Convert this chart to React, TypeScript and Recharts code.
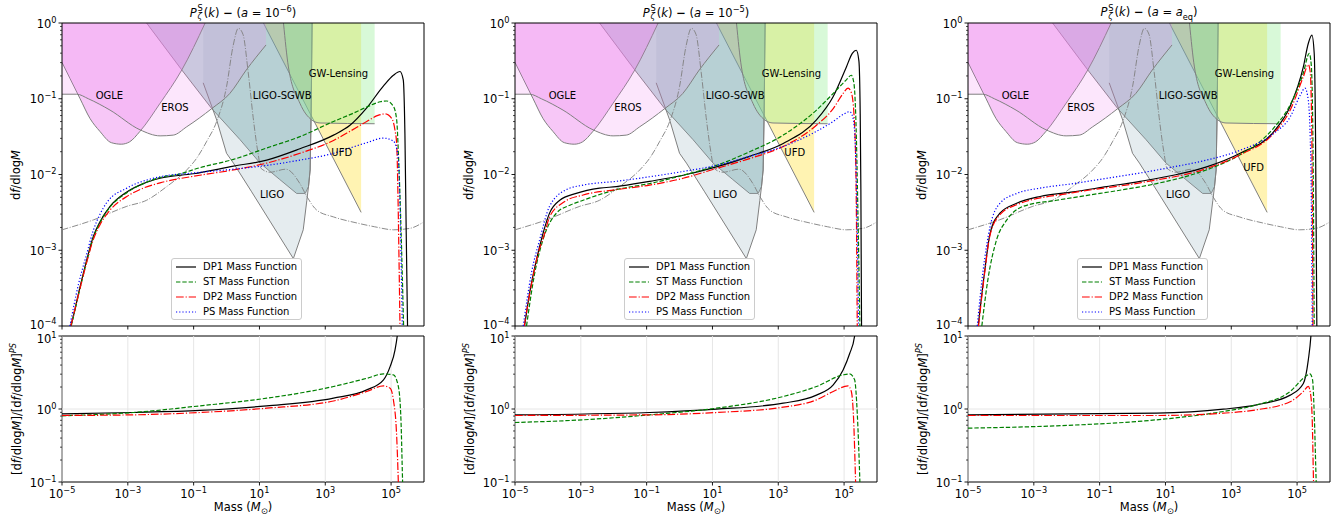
import React from 'react';
import { ComposedChart, Line, Area, XAxis, YAxis, ReferenceArea, ReferenceLine, ReferenceDot } from 'recharts';

type Pt = [number, number];

// ---------- axis ticks (log10 exponents) ----------
const massTickExps = [-5, -3, -1, 1, 3, 5];
const fracMajorExps = [-4, -3, -2, -1, 0];
const ratioMajorExps = [-1, 0, 1];

// ---------- constraint regions: lower boundary [log10 M, log10 f] (region extends up to f = 1) ----------
const ogleBound: Pt[] = [[-5, -0.52], [-4.76, -0.73], [-4.45, -1.0], [-4.15, -1.26], [-3.85, -1.43], [-3.5, -1.58], [-3.2, -1.6], [-2.95, -1.57], [-2.63, -1.43], [-2.02, -1.06], [-1.36, -0.62], [-0.65, 0]];
const erosBound: Pt[] = [[-5, -0.94], [-4.55, -0.94], [-4.2, -1.0], [-3.54, -1.15], [-2.63, -1.41], [-2.02, -1.49], [-1.62, -1.48], [-1.21, -1.37], [-0.45, -1.13], [0.1, -0.93], [0.6, -0.62], [1.2, -0.29]];
const sgwbBound: Pt[] = [[-2.43, 0], [-1.36, -0.62], [-0.45, -1.13], [0.41, -1.54], [1.02, -1.85], [1.6, -2.06], [2.13, -2.25], [2.39, -2.25], [2.49, -2.16], [2.54, -1.94], [2.57, -1.2], [2.6, 0]];
const ligoBound: Pt[] = [[-0.71, -0.79], [-0.3, -1.28], [0.0, -1.72], [0.21, -1.85], [0.75, -2.22], [2.03, -3.11], [2.33, -2.73], [2.44, -2.34], [2.49, -2.16], [2.54, -1.94], [2.57, -1.2], [2.6, 0]];
const ufdBound: Pt[] = [[1.12, 0], [4.09, -2.5]];
const gwlBound: Pt[] = [[1.73, 0], [1.88, -0.58], [2.23, -1.06], [2.59, -1.28], [2.84, -1.32], [4.5, -1.33]];
const refCurve: Pt[] = [[-5, -2.73], [-4.05, -2.6], [-3.03, -2.42], [-2.43, -2.34], [-1.82, -2.16], [-1.21, -1.94], [-0.9, -1.78], [-0.6, -1.56], [-0.3, -1.3], [0.0, -0.84], [0.2, -0.3], [0.36, -0.07], [0.5, -0.15], [0.66, -0.66], [0.81, -1.25], [0.95, -1.7], [1.05, -1.92], [1.32, -1.97], [1.8, -1.93], [2.23, -2.12], [2.44, -2.29], [2.74, -2.47], [3.25, -2.56], [3.96, -2.64], [4.5, -2.69], [5.07, -2.73], [5.58, -2.71], [5.98, -2.63]];

// ---------- panel 1 (a = 1e-6) ----------
const dp1A: Pt[] = [[-4.74, -4], [-4.71, -3.96], [-4.45, -3.48], [-4.25, -3.13], [-4.05, -2.82], [-3.84, -2.62], [-3.54, -2.42], [-3.03, -2.23], [-2.53, -2.12], [-2.02, -2.05], [-1.01, -1.99], [0.21, -1.89], [1.22, -1.81], [2.23, -1.66], [3.25, -1.48], [3.75, -1.35], [4.26, -1.12], [4.77, -0.83], [5.07, -0.69], [5.27, -0.64], [5.37, -0.75], [5.42, -1.46], [5.46, -2.78], [5.5, -4]];
const stA: Pt[] = [[-4.72, -4], [-4.45, -3.5], [-4.25, -3.15], [-4.05, -2.84], [-3.84, -2.63], [-3.54, -2.43], [-3.03, -2.24], [-2.53, -2.12], [-2.02, -2.04], [-1.5, -2.0], [-0.81, -1.91], [0.21, -1.8], [1.22, -1.65], [2.23, -1.5], [3.25, -1.3], [3.75, -1.21], [4.26, -1.11], [4.67, -1.04], [4.87, -1.03], [5.07, -1.1], [5.17, -1.28], [5.22, -1.7], [5.3, -2.7], [5.38, -4]];
const dp2A: Pt[] = [[-4.73, -4], [-4.45, -3.5], [-4.25, -3.16], [-4.05, -2.86], [-3.84, -2.66], [-3.54, -2.47], [-3.03, -2.29], [-2.53, -2.18], [-2.02, -2.11], [-0.81, -2.01], [0.21, -1.94], [1.22, -1.85], [2.23, -1.72], [3.25, -1.55], [3.75, -1.43], [4.26, -1.3], [4.6, -1.22], [4.82, -1.2], [5.02, -1.26], [5.12, -1.42], [5.17, -1.6], [5.21, -2.3], [5.24, -3.1], [5.27, -4]];
const psA: Pt[] = [[-4.76, -4], [-4.5, -3.45], [-4.25, -3.05], [-4.05, -2.74], [-3.84, -2.52], [-3.64, -2.37], [-3.03, -2.18], [-2.02, -2.03], [-1.01, -1.98], [0.21, -1.93], [1.22, -1.88], [2.23, -1.81], [3.25, -1.72], [3.75, -1.65], [4.26, -1.58], [4.77, -1.52], [5.07, -1.56], [5.17, -1.66], [5.22, -1.8], [5.27, -2.4], [5.3, -3.0], [5.34, -4]];
const rDp1A: Pt[] = [[-5, -0.066], [-2.83, -0.048], [-0.81, -0.02], [1.22, 0.043], [3.25, 0.148], [4.26, 0.262], [4.77, 0.4], [4.97, 0.58], [5.12, 0.81], [5.2, 1.05], [5.25, 1.3]];
const rStA: Pt[] = [[-5, -0.093], [-2.83, -0.048], [-0.81, 0.043], [1.22, 0.148], [3.25, 0.308], [4.26, 0.42], [4.77, 0.48], [5.07, 0.467], [5.22, 0.31], [5.3, -0.15], [5.35, -1.0], [5.37, -1.3]];
const rDp2A: Pt[] = [[-5, -0.089], [-2.83, -0.08], [-0.81, -0.048], [1.22, 0.011], [3.25, 0.11], [4.26, 0.24], [4.77, 0.317], [4.97, 0.285], [5.07, 0.125], [5.17, -0.376], [5.22, -1.0], [5.24, -1.3]];

// ---------- panel 2 (a = 1e-5) ----------
const dp1B: Pt[] = [[-4.71, -4], [-4.55, -3.55], [-4.35, -3.13], [-4.15, -2.78], [-3.95, -2.51], [-3.64, -2.34], [-3.14, -2.25], [-2.43, -2.18], [-1.92, -2.16], [-0.91, -2.09], [0.11, -2.01], [1.12, -1.9], [2.13, -1.76], [3.15, -1.59], [4.16, -1.28], [4.67, -0.97], [5.07, -0.58], [5.25, -0.4], [5.37, -0.36], [5.45, -0.5], [5.49, -1.2], [5.51, -2.2], [5.53, -4]];
const stB: Pt[] = [[-4.65, -4], [-4.4, -3.3], [-4.15, -2.86], [-3.74, -2.51], [-3.3, -2.4], [-2.93, -2.34], [-1.92, -2.2], [-0.91, -2.12], [0.11, -2.01], [1.12, -1.88], [2.13, -1.7], [3.15, -1.48], [4.16, -1.15], [4.67, -0.93], [5.07, -0.75], [5.22, -0.69], [5.3, -0.8], [5.36, -1.3], [5.42, -2.5], [5.48, -4]];
const dp2B: Pt[] = [[-4.72, -4], [-4.5, -3.45], [-4.3, -3.05], [-4.1, -2.78], [-3.95, -2.56], [-3.5, -2.36], [-2.93, -2.27], [-1.92, -2.2], [-0.91, -2.14], [0.11, -2.05], [1.12, -1.92], [2.13, -1.79], [3.15, -1.63], [4.16, -1.35], [4.67, -1.13], [4.97, -0.93], [5.12, -0.86], [5.22, -0.92], [5.3, -1.2], [5.36, -2.0], [5.4, -4]];
const psB: Pt[] = [[-4.75, -4], [-4.5, -3.3], [-4.25, -2.86], [-3.95, -2.42], [-3.44, -2.2], [-2.93, -2.14], [-1.92, -2.09], [-0.91, -2.03], [0.11, -1.96], [1.12, -1.88], [2.13, -1.76], [3.15, -1.63], [4.16, -1.43], [4.67, -1.3], [5.0, -1.2], [5.17, -1.17], [5.27, -1.25], [5.34, -1.6], [5.39, -2.5], [5.44, -4]];
const rDp1B: Pt[] = [[-5, -0.08], [-0.91, -0.048], [1.12, -0.002], [3.15, 0.08], [4.16, 0.19], [4.67, 0.33], [4.97, 0.535], [5.17, 0.76], [5.32, 1.0], [5.38, 1.3]];
const rStB: Pt[] = [[-5, -0.185], [-2.93, -0.148], [-0.91, -0.08], [1.12, 0.011], [3.15, 0.171], [4.16, 0.308], [4.97, 0.467], [5.17, 0.48], [5.32, 0.4], [5.4, -0.057], [5.48, -1.0], [5.5, -1.3]];
const rDp2B: Pt[] = [[-5, -0.089], [-0.91, -0.08], [1.12, -0.048], [3.15, 0.025], [4.16, 0.125], [4.67, 0.24], [5.12, 0.317], [5.22, 0.24], [5.29, -0.15], [5.35, -1.0], [5.37, -1.3]];

// ---------- panel 3 (a = a_eq) ----------
const dp1C: Pt[] = [[-4.69, -4], [-4.5, -3.3], [-4.33, -2.78], [-4.03, -2.51], [-3.52, -2.38], [-2.81, -2.29], [-1.8, -2.23], [-0.79, -2.16], [0.23, -2.09], [1.24, -2.01], [2.25, -1.9], [3.27, -1.72], [4.28, -1.44], [4.79, -1.1], [5.19, -0.58], [5.34, -0.27], [5.45, -0.16], [5.52, -0.4], [5.56, -1.46], [5.6, -4]];
const stC: Pt[] = [[-4.58, -4], [-4.4, -3.4], [-4.13, -2.86], [-3.82, -2.6], [-3.32, -2.42], [-2.31, -2.34], [-1.29, -2.27], [-0.28, -2.2], [0.73, -2.12], [1.75, -2.01], [2.76, -1.85], [3.27, -1.74], [4.28, -1.39], [4.79, -1.08], [5.19, -0.66], [5.37, -0.4], [5.43, -0.55], [5.48, -1.5], [5.52, -4]];
const dp2C: Pt[] = [[-4.68, -4], [-4.5, -3.32], [-4.33, -2.8], [-4.03, -2.53], [-3.52, -2.4], [-1.8, -2.24], [0.23, -2.11], [2.25, -1.92], [3.27, -1.74], [4.28, -1.46], [4.79, -1.15], [5.19, -0.71], [5.34, -0.55], [5.4, -0.65], [5.45, -1.6], [5.48, -4]];
const psC: Pt[] = [[-4.72, -4], [-4.55, -3.3], [-4.33, -2.69], [-4.03, -2.38], [-3.52, -2.25], [-2.81, -2.18], [-1.8, -2.12], [-0.79, -2.05], [0.23, -1.98], [1.24, -1.9], [2.25, -1.81], [3.27, -1.68], [4.28, -1.46], [4.79, -1.24], [5.1, -0.95], [5.24, -0.86], [5.34, -1.02], [5.42, -1.9], [5.46, -4]];
const rDp1C: Pt[] = [[-5, -0.08], [0.73, -0.057], [2.76, -0.002], [3.77, 0.057], [4.79, 0.19], [5.19, 0.35], [5.34, 0.67], [5.42, 1.0], [5.46, 1.3]];
const rStC: Pt[] = [[-5, -0.262], [-2.3, -0.23], [0.73, -0.148], [2.76, -0.034], [3.77, 0.057], [4.79, 0.24], [5.24, 0.44], [5.39, 0.48], [5.47, 0.4], [5.52, -0.057], [5.58, -1.0], [5.6, -1.3]];
const rDp2C: Pt[] = [[-5, -0.089], [0.73, -0.089], [2.76, -0.057], [3.77, -0.011], [4.79, 0.1], [5.19, 0.24], [5.34, 0.31], [5.42, 0.17], [5.46, -0.15], [5.5, -1.0], [5.52, -1.3]];

// ---------- text ----------
const regionLabels = ['OGLE', 'EROS', 'LIGO-SGWB', 'GW-Lensing', 'UFD', 'LIGO'];
const legendNames = ['DP1 Mass Function', 'ST Mass Function', 'DP2 Mass Function', 'PS Mass Function'];

// ---------- styles ----------
const regionStyles = [
  { key: 'ufd', fill: '#ffd700', op: 0.3, curve: 'linear' },
  { key: 'sgwb', fill: '#5f9ea0', op: 0.38, curve: 'linear' },
  { key: 'ligo', fill: '#96b4be', op: 0.25, curve: 'linear' },
  { key: 'ogle', fill: '#ee82ee', op: 0.45, curve: 'monotone' },
  { key: 'eros', fill: '#ee82ee', op: 0.2, curve: 'monotone' },
  { key: 'gwl', fill: '#90ee90', op: 0.35, curve: 'monotone' },
];
const seriesStyles = [
  { key: 'dp1', color: '#000000', dash: undefined as string | undefined },
  { key: 'st', color: '#008000', dash: '4.4 1.9' },
  { key: 'dp2', color: '#ff0000', dash: '7.7 1.9 1.2 1.9' },
  { key: 'ps', color: '#0000ff', dash: '1.2 2' },
];
const labelPos: Record<string, [number, number]> = {
  'OGLE': [-3.56, -0.96], 'EROS': [-1.57, -1.11], 'LIGO-SGWB': [1.69, -0.96],
  'GW-Lensing': [3.4, -0.66], 'UFD': [3.5, -1.71], 'LIGO': [1.38, -2.26],
};

const minorOffsets = [2, 3, 4, 5, 6, 7, 8, 9].map((k) => Math.log10(k));
function logTicks(lo: number, hi: number) {
  const t: number[] = [];
  for (let e = lo; e <= hi; e++) {
    t.push(e);
    if (e < hi) minorOffsets.forEach((o) => t.push(e + o));
  }
  return t;
}
const fracTicks = logTicks(fracMajorExps[0], fracMajorExps[fracMajorExps.length - 1]);
const ratioTicks = logTicks(ratioMajorExps[0], ratioMajorExps[ratioMajorExps.length - 1]);

function buildRows(series: Record<string, Pt[]>) {
  const map = new Map<number, any>();
  for (const [key, pts] of Object.entries(series)) {
    for (const [x, y] of pts) {
      let row = map.get(x);
      if (!row) { row = { x }; map.set(x, row); }
      row[key] = y;
    }
  }
  return Array.from(map.values()).sort((a, b) => a.x - b.x);
}

const fmtExp = (e: number) => (e < 0 ? '\u2212' + Math.abs(e) : String(e));
const isMajor = (v: number) => Math.abs(v - Math.round(v)) < 1e-9;

const YTick = (props: any) => {
  const { x, y, payload, lowShift, highShift, lo, hi } = props;
  const v = payload.value;
  const major = isMajor(v);
  const e = Math.round(v);
  let base = 4.5;
  if (major && e === lo && lowShift !== undefined) base = lowShift;
  if (major && e === hi && highShift !== undefined) base = highShift;
  return (
    <g>
      <line x1={x - (major ? 3.5 : 2)} x2={x} y1={y} y2={y} stroke="#000" strokeWidth={major ? 0.9 : 0.7} />
      {major && (
        <text x={x - 5.5} y={y + base} textAnchor="end" fontSize={11.5} fill="#000">
          10<tspan fontSize={8.2} dy={-5}>{fmtExp(e)}</tspan>
        </text>
      )}
    </g>
  );
};

const XTick = (props: any) => {
  const { x, y, payload, showLabel } = props;
  return (
    <g>
      <line x1={x} x2={x} y1={y} y2={y + 3.5} stroke="#000" strokeWidth={0.9} />
      {showLabel && (
        <text x={x} y={y + 15.5} textAnchor="middle" fontSize={11.5} fill="#000">
          10<tspan fontSize={8.2} dy={-5}>{fmtExp(Math.round(payload.value))}</tspan>
        </text>
      )}
    </g>
  );
};

const PANEL_W = 453;
const PLOT_L = 62;
const PLOT_W = 362;

function TopPanel({ rows, ufdPos }: { rows: any[]; ufdPos: [number, number] }) {
  return (
    <ComposedChart width={PANEL_W} height={340} data={rows} margin={{ top: 23, right: PANEL_W - PLOT_L - PLOT_W, bottom: 6, left: 22 }}>
      <XAxis dataKey="x" type="number" domain={[-5, 6]} allowDataOverflow ticks={massTickExps} interval={0}
        tickSize={0} tickMargin={0} axisLine={false} tickLine={false} height={8}
        tick={(p: any) => <XTick {...p} showLabel={false} />} />
      <YAxis type="number" domain={[-4, 0]} allowDataOverflow ticks={fracTicks} interval={0} width={40}
        tickSize={0} tickMargin={0} axisLine={false} tickLine={false}
        tick={(p: any) => <YTick {...p} lo={-4} hi={0} lowShift={2.5} />} />
      {regionStyles.map((r) => (
        <Area key={r.key} dataKey={r.key} type={r.curve as any} fill={r.fill} fillOpacity={r.op}
          stroke="#808080" strokeWidth={1} baseValue={0} connectNulls dot={false} activeDot={false}
          isAnimationActive={false} />
      ))}
      <Line dataKey="ref" type="monotone" stroke="#808080" strokeOpacity={0.9} strokeWidth={1}
        strokeDasharray="6.4 1.6 1 1.6" dot={false} activeDot={false} connectNulls isAnimationActive={false} />
      {seriesStyles.map((s) => (
        <Line key={s.key} dataKey={s.key} type="monotone" stroke={s.color} strokeWidth={1.2}
          strokeDasharray={s.dash} dot={false} activeDot={false} connectNulls isAnimationActive={false} />
      ))}
      {regionLabels.map((t) => {
        const pos = t === 'UFD' ? ufdPos : labelPos[t];
        return (
          <ReferenceDot key={t} x={pos[0]} y={pos[1]} r={1} fill="none" stroke="none"
            label={{ value: t, position: 'center', fontSize: 10, fill: '#000' }} />
        );
      })}
      <ReferenceArea x1={-5} x2={6} y1={-4} y2={0} fill="none" fillOpacity={0} stroke="#000" strokeWidth={1} />
    </ComposedChart>
  );
}

function BottomPanel({ rows }: { rows: any[] }) {
  return (
    <ComposedChart width={PANEL_W} height={200} data={rows} margin={{ top: 18, right: PANEL_W - PLOT_L - PLOT_W, bottom: 6, left: 22 }}>
      <XAxis dataKey="x" type="number" domain={[-5, 6]} allowDataOverflow ticks={massTickExps} interval={0}
        tickSize={0} tickMargin={0} axisLine={false} tickLine={false} height={30}
        tick={(p: any) => <XTick {...p} showLabel={true} />} />
      <YAxis type="number" domain={[-1, 1]} allowDataOverflow ticks={ratioTicks} interval={0} width={40}
        tickSize={0} tickMargin={0} axisLine={false} tickLine={false}
        tick={(p: any) => <YTick {...p} lo={-1} hi={1} highShift={6.5} />} />
      {massTickExps.map((e) => (
        <ReferenceLine key={'v' + e} x={e} stroke="#e3e3e3" strokeWidth={0.9} />
      ))}
      <ReferenceLine y={0} stroke="#e3e3e3" strokeWidth={0.9} />
      {seriesStyles.slice(0, 3).map((s) => (
        <Line key={s.key} dataKey={s.key} type="monotone" stroke={s.color} strokeWidth={1.2}
          strokeDasharray={s.dash} dot={false} activeDot={false} connectNulls isAnimationActive={false} />
      ))}
      <ReferenceArea x1={-5} x2={6} y1={-1} y2={1} fill="none" fillOpacity={0} stroke="#000" strokeWidth={1} />
    </ComposedChart>
  );
}

const SupSub = ({ sup, sub }: { sup: string; sub: string }) => (
  <span style={{ display: 'inline-flex', flexDirection: 'column', verticalAlign: 'middle', fontSize: '0.72em', lineHeight: 0.95, margin: '0 1px' }}>
    <span>{sup}</span>
    <span style={{ fontStyle: 'italic' }}>{sub}</span>
  </span>
);

const titleA = (tail: React.ReactNode) => (
  <>
    <i>P</i><SupSub sup="S" sub="ζ" />(<i>k</i>) <b style={{ fontWeight: 700 }}>−</b> ({tail})
  </>
);

function Legend({ left }: { left: number }) {
  return (
    <div style={{ position: 'absolute', left, top: 258, width: 131, height: 62, boxSizing: 'border-box', border: '1px solid #cccccc', borderRadius: 3, background: 'rgba(255,255,255,0.8)', fontSize: 10 }}>
      {legendNames.map((n, i) => {
        const s = seriesStyles[i];
        const cy = 8 + i * 14.9;
        return (
          <div key={n} style={{ position: 'absolute', left: 0, top: cy - 7, height: 14, width: 129 }}>
            <svg width={24} height={14} style={{ position: 'absolute', left: 3, top: 0 }}>
              <line x1={1} x2={21} y1={7} y2={7} stroke={s.color} strokeWidth={1.2} strokeDasharray={s.dash} />
            </svg>
            <span style={{ position: 'absolute', left: 31, top: 1, whiteSpace: 'nowrap', lineHeight: '12px' }}>{n}</span>
          </div>
        );
      })}
    </div>
  );
}

const topRowsA = buildRows({ ogle: ogleBound, eros: erosBound, sgwb: sgwbBound, ligo: ligoBound, ufd: ufdBound, gwl: gwlBound, ref: refCurve, dp1: dp1A, st: stA, dp2: dp2A, ps: psA });
const topRowsB = buildRows({ ogle: ogleBound, eros: erosBound, sgwb: sgwbBound, ligo: ligoBound, ufd: ufdBound, gwl: gwlBound, ref: refCurve, dp1: dp1B, st: stB, dp2: dp2B, ps: psB });
const topRowsC = buildRows({ ogle: ogleBound, eros: erosBound, sgwb: sgwbBound, ligo: ligoBound, ufd: ufdBound, gwl: gwlBound, ref: refCurve, dp1: dp1C, st: stC, dp2: dp2C, ps: psC });
const botRowsA = buildRows({ dp1: rDp1A, st: rStA, dp2: rDp2A });
const botRowsB = buildRows({ dp1: rDp1B, st: rStB, dp2: rDp2B });
const botRowsC = buildRows({ dp1: rDp1C, st: rStC, dp2: rDp2C });

const panels = [
  { top: topRowsA, bot: botRowsA, ufd: [3.5, -1.71] as [number, number], title: titleA(<><i>a</i> = 10<sup style={{ fontSize: '0.72em' }}>−6</sup></>) },
  { top: topRowsB, bot: botRowsB, ufd: [3.5, -1.71] as [number, number], title: titleA(<><i>a</i> = 10<sup style={{ fontSize: '0.72em' }}>−5</sup></>) },
  { top: topRowsC, bot: botRowsC, ufd: [3.68, -1.91] as [number, number], title: titleA(<><i>a</i> = <i>a</i><sub style={{ fontSize: '0.72em' }}>eq</sub></>) },
];

export default function App() {
  return (
    <div style={{ position: 'absolute', left: 0, top: 0, width: 1340, height: 518, background: '#fff', fontFamily: '"DejaVu Sans", sans-serif', color: '#000', overflow: 'hidden' }}>
      {panels.map((p, i) => {
        const ox = i * PANEL_W;
        const plotCx = ox + PLOT_L + PLOT_W / 2;
        return (
          <React.Fragment key={i}>
            <div style={{ position: 'absolute', left: ox, top: 0 }}>
              <TopPanel rows={p.top} ufdPos={p.ufd} />
            </div>
            <div style={{ position: 'absolute', left: ox, top: 318 }}>
              <BottomPanel rows={p.bot} />
            </div>
            <div style={{ position: 'absolute', left: plotCx, top: 13, transform: 'translate(-50%,-50%)', whiteSpace: 'nowrap', fontSize: 11.5, lineHeight: 1 }}>
              {p.title}
            </div>
            <div style={{ position: 'absolute', left: ox + PLOT_L - 46, top: 175, transform: 'translate(-50%,-50%) rotate(-90deg)', whiteSpace: 'nowrap', fontSize: 11.5 }}>
              d<i>f</i>/dlog<i>M</i>
            </div>
            <div style={{ position: 'absolute', left: ox + PLOT_L - 46, top: 409, transform: 'translate(-50%,-50%) rotate(-90deg)', whiteSpace: 'nowrap', fontSize: 11.5 }}>
              [d<i>f</i>/dlog<i>M</i>]/[d<i>f</i>/dlog<i>M</i>]<sup style={{ fontSize: '0.72em' }}><i>PS</i></sup>
            </div>
            <div style={{ position: 'absolute', left: plotCx, top: 508, transform: 'translate(-50%,-50%)', whiteSpace: 'nowrap', fontSize: 11.5 }}>
              Mass (<i>M</i><sub style={{ fontSize: '0.72em' }}>⊙</sub>)
            </div>
            <Legend left={ox + PLOT_L + 109} />
          </React.Fragment>
        );
      })}
    </div>
  );
}
